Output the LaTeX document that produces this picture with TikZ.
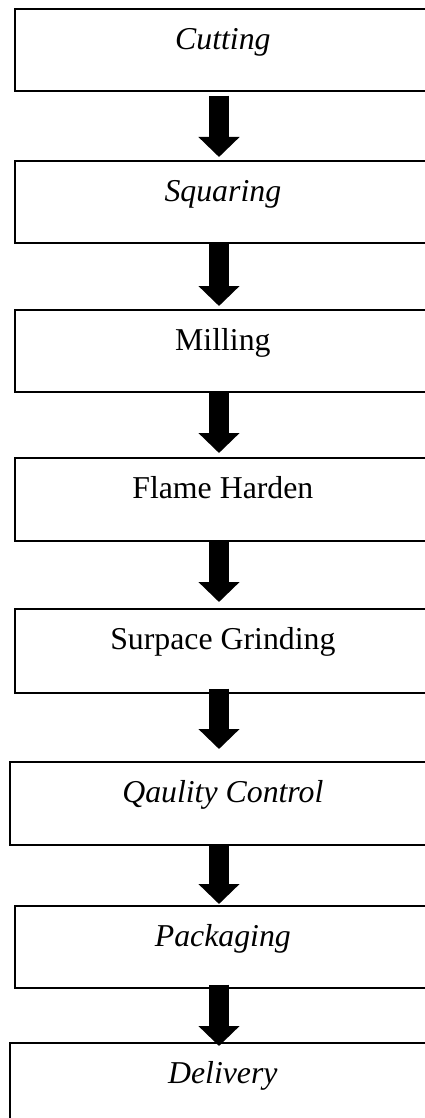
\documentclass[tikz,border=0pt]{standalone}
\usepackage{fontspec}
\setmainfont{Liberation Serif}
\usetikzlibrary{arrows.meta}
\begin{document}
\begin{tikzpicture}[x=1pt,y=-1pt,
  box/.style={draw, line width=1.7pt, anchor=north west, inner xsep=0pt, inner ysep=0pt,
    text height=41pt, font=\fontsize{31.8}{36}\selectfont},
  narrow/.style={minimum width=416pt},
  wide/.style={minimum width=426pt},
  flow/.style={line width=20pt, -{Triangle[length=20pt,width=40pt]}}]
\useasboundingbox (0,0) rectangle (425,1118);
\clip (0,0) rectangle (425,1118);
\coordinate (ax) at (219,0);
\node[box, narrow, text depth=41pt] (b1) at (14,8) {\itshape Cutting};
\node[box, narrow, text depth=41pt] (b2) at (14,160) {\itshape Squaring};
\node[box, narrow, text depth=41pt] (b3) at (14,309) {Milling};
\node[box, narrow, text depth=42pt] (b4) at (14,457) {Flame Harden};
\node[box, narrow, text depth=43pt] (b5) at (14,608) {Surpace Grinding};
\node[box, wide, text depth=42pt] (b6) at (9,761) {\itshape Qaulity Control};
\node[box, narrow, text depth=41pt] (b7) at (14,905) {\itshape Packaging};
\node[box, wide, text depth=50pt] (b8) at (9,1042) {\itshape Delivery};
\draw[flow, shorten <=4pt, shorten >=3pt] (b1.south -| ax) -- (b2.north -| ax);
\draw[flow, shorten >=3pt] (b2.south -| ax) -- (b3.north -| ax);
\draw[flow, shorten >=4pt] (b3.south -| ax) -- (b4.north -| ax);
\draw[flow, shorten >=6pt] (b4.south -| ax) -- (b5.north -| ax);
\draw[flow, shorten <=-5pt, shorten >=12pt] (b5.south -| ax) -- (b6.north -| ax);
\draw[flow, shorten >=1pt] (b6.south -| ax) -- (b7.north -| ax);
\draw[flow, shorten <=-4pt, shorten >=-4pt] (b7.south -| ax) -- (b8.north -| ax);
\end{tikzpicture}
\end{document}
